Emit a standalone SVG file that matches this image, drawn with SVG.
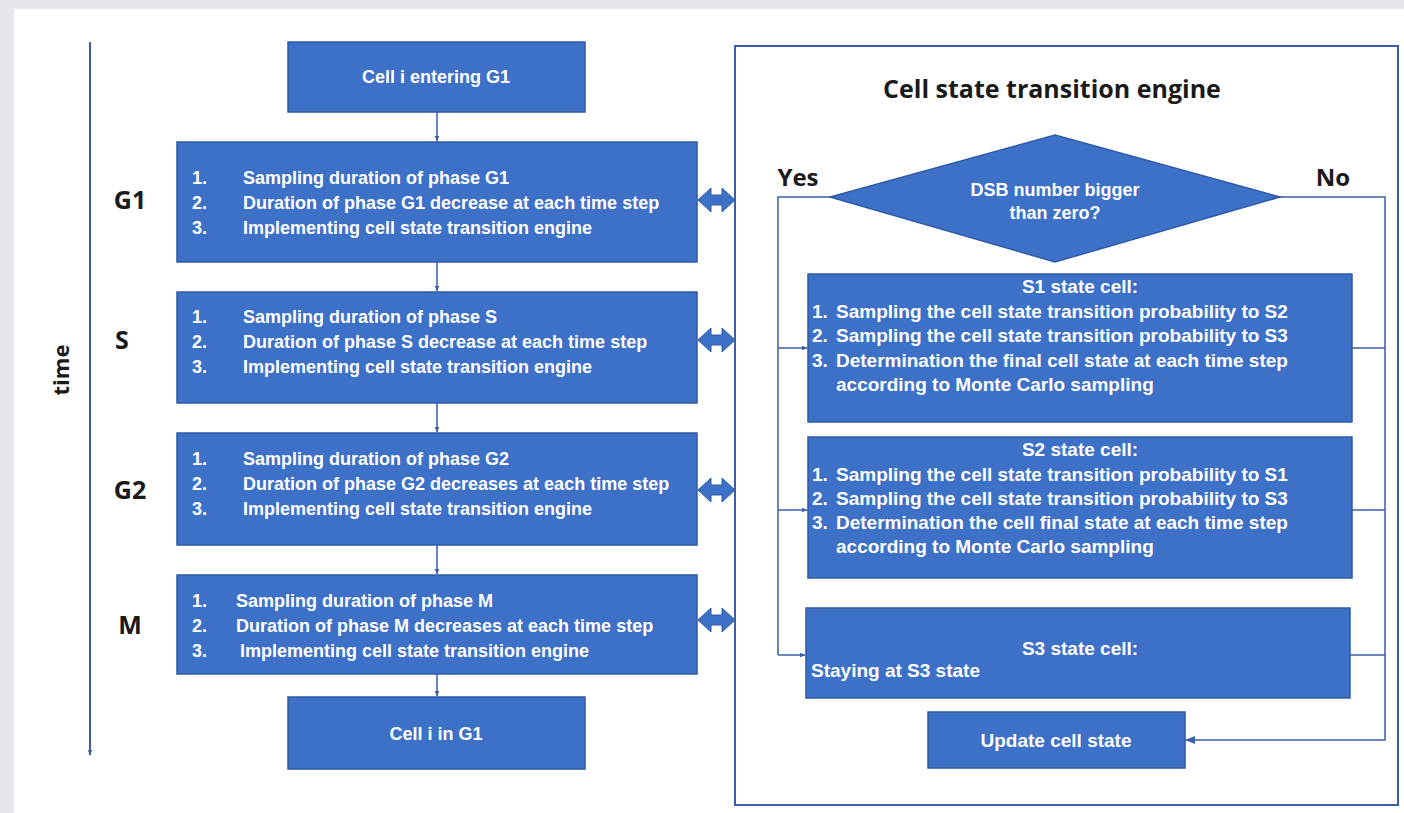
<svg xmlns="http://www.w3.org/2000/svg" width="1404" height="813" viewBox="0 0 1404 813">
<defs>
<style>
.box{fill:#3d71c7;stroke:#2f5aa5;stroke-width:1.5}
.wt{fill:#ffffff;font-family:"Liberation Sans",Arial,sans-serif;font-weight:bold;font-size:18px}
.wr{fill:#ffffff;font-family:"Liberation Sans",Arial,sans-serif;font-weight:bold;font-size:19px}
.bk{fill:#1a1a1a;font-family:"Open Sans","Liberation Sans",sans-serif;font-weight:bold}
.ln{fill:none;stroke:#3a5fa8;stroke-width:2}
.thin{fill:none;stroke:#3a5fa8;stroke-width:1.5}
</style>
<marker id="ah" viewBox="0 0 10 10" refX="9" refY="5" markerWidth="6" markerHeight="6" orient="auto-start-reverse" markerUnits="userSpaceOnUse">
<path d="M0,1 L10,5 L0,9 z" fill="#3a5fa8"/>
</marker>
<marker id="ah2" viewBox="0 0 10 10" refX="9" refY="5" markerWidth="10" markerHeight="10" orient="auto" markerUnits="userSpaceOnUse">
<path d="M0,1 L10,5 L0,9 z" fill="#3a5fa8"/>
</marker>
</defs>
<rect x="0" y="0" width="1404" height="813" fill="#e4e7eb"/>
<rect x="14" y="9" width="1390" height="804" fill="#ffffff"/>

<g id="time-axis">
<line class="ln" x1="90" y1="42" x2="90" y2="755" marker-end="url(#ah)"/>
<text class="bk" font-size="22" transform="translate(69,370) rotate(-90)" text-anchor="middle">time</text>
</g>
<g id="phase-labels">
<text class="bk" font-size="25" x="130" y="209" text-anchor="middle">G1</text>
<text class="bk" font-size="25" x="122" y="349" text-anchor="middle">S</text>
<text class="bk" font-size="25" x="130" y="499" text-anchor="middle">G2</text>
<text class="bk" font-size="25" x="130" y="634" text-anchor="middle">M</text>
</g>

<g id="connectors">
<line class="thin" x1="437" y1="112" x2="437" y2="141" marker-end="url(#ah)"/>
<line class="thin" x1="437" y1="262" x2="437" y2="291" marker-end="url(#ah)"/>
<line class="thin" x1="437" y1="403" x2="437" y2="432" marker-end="url(#ah)"/>
<line class="thin" x1="437" y1="545" x2="437" y2="574" marker-end="url(#ah)"/>
<line class="thin" x1="437" y1="674" x2="437" y2="696" marker-end="url(#ah)"/>
<g fill="#3d71c7" stroke="#2f5aa5" stroke-width="1">
<path d="M698,200 L711,188 L711,195 L722,195 L722,188 L735,200 L722,212 L722,205 L711,205 L711,212 z"/>
<path d="M698,340 L711,328 L711,335 L722,335 L722,328 L735,340 L722,352 L722,345 L711,345 L711,352 z"/>
<path d="M698,490 L711,478 L711,485 L722,485 L722,478 L735,490 L722,502 L722,495 L711,495 L711,502 z"/>
<path d="M698,620 L711,608 L711,615 L722,615 L722,608 L735,620 L722,632 L722,625 L711,625 L711,632 z"/>
</g>
<polyline class="thin" points="833,197 778,197 778,655"/>
<line class="thin" x1="778" y1="348" x2="807" y2="348" marker-end="url(#ah)"/>
<line class="thin" x1="778" y1="510" x2="807" y2="510" marker-end="url(#ah)"/>
<line class="thin" x1="778" y1="655" x2="805" y2="655" marker-end="url(#ah)"/>
<polyline class="thin" points="1278,197 1385,197 1385,740 1186,740" marker-end="url(#ah2)"/>
<line class="thin" x1="1352" y1="348" x2="1385" y2="348"/>
<line class="thin" x1="1352" y1="510" x2="1385" y2="510"/>
<line class="thin" x1="1350" y1="655" x2="1385" y2="655"/>
</g>

<g id="engine-frame">
<rect x="735" y="46" width="663" height="759" fill="none" stroke="#3a5fa8" stroke-width="2"/>
<text class="bk" font-size="25" x="1052" y="98" text-anchor="middle">Cell state transition engine</text>
<text class="bk" font-size="24" x="798" y="186" text-anchor="middle">Yes</text>
<text class="bk" font-size="24" x="1333" y="186" text-anchor="middle">No</text>
</g>

<g id="cell-entering">
<rect class="box" x="288" y="42" width="297" height="70"/>
<text class="wt" x="436" y="83" text-anchor="middle">Cell i entering G1</text>
</g>

<g id="phase-G1">
<rect class="box" x="177" y="142" width="520" height="120"/>
<text class="wt" x="192" y="184">1.</text><text class="wt" x="243" y="184">Sampling duration of phase G1</text>
<text class="wt" x="192" y="209">2.</text><text class="wt" x="243" y="209">Duration of phase G1 decrease at each time step</text>
<text class="wt" x="192" y="234">3.</text><text class="wt" x="243" y="234">Implementing cell state transition engine</text>
</g>

<g id="phase-S">
<rect class="box" x="177" y="292" width="520" height="111"/>
<text class="wt" x="192" y="323">1.</text><text class="wt" x="243" y="323">Sampling duration of phase S</text>
<text class="wt" x="192" y="348">2.</text><text class="wt" x="243" y="348">Duration of phase S decrease at each time step</text>
<text class="wt" x="192" y="373">3.</text><text class="wt" x="243" y="373">Implementing cell state transition engine</text>
</g>

<g id="phase-G2">
<rect class="box" x="177" y="433" width="520" height="112"/>
<text class="wt" x="192" y="465">1.</text><text class="wt" x="243" y="465">Sampling duration of phase G2</text>
<text class="wt" x="192" y="490">2.</text><text class="wt" x="243" y="490">Duration of phase G2 decreases at each time step</text>
<text class="wt" x="192" y="515">3.</text><text class="wt" x="243" y="515">Implementing cell state transition engine</text>
</g>

<g id="phase-M">
<rect class="box" x="177" y="575" width="520" height="99"/>
<text class="wt" x="192" y="607">1.</text><text class="wt" x="236" y="607">Sampling duration of phase M</text>
<text class="wt" x="192" y="632">2.</text><text class="wt" x="236" y="632">Duration of phase M decreases at each time step</text>
<text class="wt" x="192" y="657">3.</text><text class="wt" x="240" y="657">Implementing cell state transition engine</text>
</g>

<g id="cell-in-G1">
<rect class="box" x="288" y="697" width="297" height="72"/>
<text class="wt" x="436" y="740" text-anchor="middle">Cell i in G1</text>
</g>

<g id="decision">
<polygon class="box" points="1055,135 1280,197 1055,262 830,197"/>
<text class="wt" x="1055" y="196" text-anchor="middle" font-size="17">DSB number bigger</text>
<text class="wt" x="1055" y="219" text-anchor="middle" font-size="17">than zero?</text>
</g>

<g id="S1-cell">
<rect class="box" x="808" y="274" width="544" height="148"/>
<text class="wr" x="1080" y="293" text-anchor="middle">S1 state cell:</text>
<text class="wr" x="812" y="318">1.</text><text class="wr" x="836" y="318">Sampling the cell state transition probability to S2</text>
<text class="wr" x="812" y="342">2.</text><text class="wr" x="836" y="342">Sampling the cell state transition probability to S3</text>
<text class="wr" x="812" y="367">3.</text><text class="wr" x="836" y="367">Determination the final cell state at each time step</text>
<text class="wr" x="836" y="391">according to Monte Carlo sampling</text>
</g>

<g id="S2-cell">
<rect class="box" x="808" y="437" width="544" height="141"/>
<text class="wr" x="1080" y="456" text-anchor="middle">S2 state cell:</text>
<text class="wr" x="812" y="481">1.</text><text class="wr" x="836" y="481">Sampling the cell state transition probability to S1</text>
<text class="wr" x="812" y="505">2.</text><text class="wr" x="836" y="505">Sampling the cell state transition probability to S3</text>
<text class="wr" x="812" y="529">3.</text><text class="wr" x="836" y="529">Determination the cell final state at each time step</text>
<text class="wr" x="836" y="553">according to Monte Carlo sampling</text>
</g>

<g id="S3-cell">
<rect class="box" x="806" y="608" width="544" height="90"/>
<text class="wr" x="1080" y="655" text-anchor="middle">S3 state cell:</text>
<text class="wr" x="811" y="677">Staying at S3 state</text>
</g>

<g id="update">
<rect class="box" x="928" y="712" width="257" height="56"/>
<text class="wr" x="1056" y="747" text-anchor="middle">Update cell state</text>
</g>
</svg>
